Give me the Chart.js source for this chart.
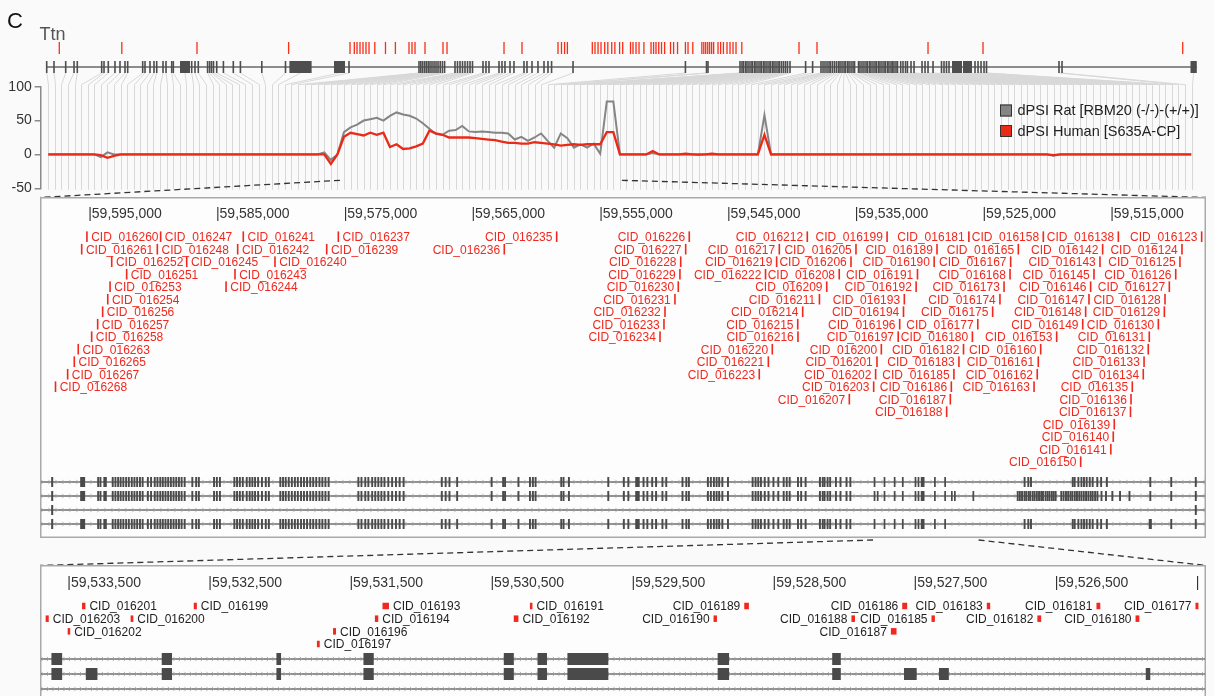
<!DOCTYPE html>
<html lang="en">
<head>
<meta charset="utf-8">
<title>Ttn exon usage</title>
<script src="https://cdn.jsdelivr.net/npm/chart.js@4.4.1/dist/chart.umd.min.js"></script>
<style>
  html, body { margin: 0; padding: 0; background: #fafafa; }
  #figure { position: relative; width: 1214px; height: 696px; overflow: hidden; }
  #figure canvas { position: absolute; left: 0; top: 0; }
</style>
</head>
<body>
<div id="figure">
  <canvas id="overview" width="1214" height="696"></canvas>
  <canvas id="region" width="1214" height="696"></canvas>
  <canvas id="detail" width="1214" height="696"></canvas>
</div>
<script>
const FONT = '"Liberation Sans", Arial, Helvetica, sans-serif';
const RED = '#f0281e';

// ---------- overview: Ttn gene model and dPSI per exon ----------
// exon positions along Ttn, kb from the 5' end (a pair is a long exon: [start, end])
const topExonsKb = [
  0.00, 1.88, 4.89, 7.03, 7.87,
  14.15, 14.75, 15.85, 17.57, 18.86, 20.15, 20.84,
  24.70, 25.30, 26.58, 27.61, 28.31, 29.93, 30.70, 32.17, 32.58,
  [34.30, 36.87],
  37.31, 38.16, 39.01,
  41.40, 41.92, 42.41, 42.92, 43.75, 45.47,
  48.02, 49.85, 55.35, 61.45,
  [62.45, 68.17], [73.93, 76.76], 77.79,
  95.80, 96.27, 96.73, 97.22, 97.68, 98.17, 98.64, 99.15, 99.67, 100.18, 100.70, 101.26, 101.83, 102.39,
  105.07, 105.71, 106.36, 107.00, 107.64, 108.29, 108.93, 109.57,
  112.27, 113.04, 113.81,
  116.39, 117.16, 117.93, 119.22, 120.24,
  122.82, 123.59, 124.88, 126.42, 127.97, 129.00, 129.92,
  135.44, 164.36, 169.79, 170.17,
  178.41, 178.92, 179.31, 179.82, 180.21, 180.72, 181.24, 181.62, 182.14, 182.52, 183.04, 183.55, 183.94, 184.45,
  184.84, 185.35, 185.87, 186.26, 186.77, 187.16, 187.67, 188.19, 188.57, 189.09, 189.60, 190.12, 190.63, 191.27,
  195.29, 197.09,
  199.25, 199.77, 200.28, 200.80, 201.31, 201.70, 202.21, 202.73, 203.24, 203.76, 204.15, 204.66, 205.18, 205.56,
  206.08, 206.46, 206.98, 207.49, 207.88,
  208.90, 209.28, 209.80, 210.31, 210.83, 211.21, 211.73, 212.11, 212.63, 213.14, 213.53, 214.04, 214.43, 214.94,
  215.46, 215.84, 216.36, 216.74, 217.26, 217.64, 218.03, 218.54, 218.93,
  219.76, 220.35, 221.00, 221.49,
  222.41, 223.19,
  225.25, 226.02, 226.79, 228.08,
  230.26, 230.90, 231.54, 232.19, [232.96, 235.53], [235.79, 238.11],
  238.88, 239.66, 240.43, 241.20, 241.84,
  260.49, 261.27,
  [294.33, 295.95]
];
const geneLengthKb = 296;

// exons with a splicing change, same coordinates
const dpsiExonsKb = [
  3.24, 19.33, 38.68, 62.25, 78.05, 79.16, 79.85, 80.62, 81.39, 82.16, 82.94, 84.43, 87.18, 89.73,
  93.23, 94.00, 94.78, 97.35, 101.98, 103.01, 117.68, 122.31, 131.57, 132.47, 133.27, 133.99,
  140.40, 141.09, 141.87, 142.64, 143.59, 144.39, 145.40, 146.21, 147.42, 148.22, 150.23, 150.87,
  151.65, 152.42, 153.68, 155.51, 156.17, 156.79, 157.49, 158.21, 159.01, 160.53, 161.32, 162.33,
  164.36, 165.03, 166.26, 168.58, 169.09, 169.58, 170.10, 170.59, 171.10, 171.62, 172.75, 173.42,
  174.14, 175.06, 175.84, 176.61, 177.38, 178.87, 193.59, 198.22, 226.79, 240.94, 292.33
];

// one column per exon
const exonColumns = topExonsKb.map((_, i) => i);

const dpsiRat = [
  0, 0, 0, 0, 0, 0, 0, 0, -4, 3, 0, 0, 0, 0, 0, 0, 0, 0, 0, 0, 0, 0, 0, 0, 0,
  0, 0, 0, 0, 0, 0, 0, 0, 0, 0, 0, 0, 0, 0, 0, 0, 0, 3, -8, 0, 33, 40, 44, 50, 52,
  54, 50, 57, 62, 59, 57, 53, 46, 38, 30, 29, 35, 36, 42, 34, 33, 34, 33, 32, 32, 31, 22, 26, 20, 25,
  31, 20, 10, 31, 24, 10, 15, 10, 16, 1, 78, 78, 0, 0, 0, 0, 0, 2, 0, 0, 0, 0, 0, 0, -1,
  0, 0, 0, 0, 0, 0, 0, 0, 0, 58, 0, 0, 0, 0, 0, 0, 0, 0, 0, 0, 0, 0, 0, 0, 0,
  0, 0, 0, 0, 0, 0, 0, 0, 0, 0, 0, 0, 0, 0, 0, 0, 0, 0, 0, 0, 0, 0, 0, 0, 0,
  0, 0, 0, -2, 0, 0, 0, 0, 0, 0, 0, 0, 0, 0, 0, 0, 0, 0, 0, 0, 0, 0, 0, 0, 0
];
const dpsiHuman = [
  0, 0, 0, 0, 0, 0, 0, 0, -1, -5, -2, 0, 0, 0, 0, 0, 0, 0, 0, 0, 0, 0, 0, 0, 0,
  0, 0, 0, 0, 0, 0, 0, 0, 0, 0, 0, 0, 0, 0, 0, 0, 0, 0, -14, 0, 26, 32, 30, 28, 32,
  29, 32, 11, 15, 8, 9, 12, 16, 35, 31, 29, 25, 25, 25, 25, 24, 23, 22, 21, 19, 17, 17, 16, 16, 18,
  17, 16, 15, 13, 14, 15, 14, 15, 15, 15, 33, 33, 0, 0, 0, 0, 0, 5, 0, 0, 0, 0, 1, 0, 0,
  0, 1, 0, 0, 0, 0, 0, 0, 0, 29, 0, 0, 0, 0, 0, 0, 0, 0, 0, 0, 0, 0, 0, 0, 0,
  0, 0, 0, 0, 0, 0, 0, 0, 0, 0, 0, 0, 0, 0, 0, 0, 0, 0, 0, 0, 0, 0, 0, 0, 0,
  0, 0, 0, -1, 0, 0, 0, 0, 0, 0, 0, 0, 0, 0, 0, 0, 0, 0, 0, 0, 0, 0, 0, 0, 0
];
const dpsiTicks = [-50, 0, 50, 100];
// exon columns covered by the region panel below
const regionColumns = [44.4, 87.3];

// ---------- region panel ----------
const regionRange = [59507640, 59598914];
const regionTicks = [59595000, 59585000, 59575000, 59565000, 59555000, 59545000, 59535000, 59525000, 59515000];

const cidNames = [
  'CID_016123', 'CID_016124', 'CID_016125', 'CID_016126', 'CID_016127', 'CID_016128', 'CID_016129', 'CID_016130',
  'CID_016131', 'CID_016132', 'CID_016133', 'CID_016134', 'CID_016135', 'CID_016136', 'CID_016137', 'CID_016138',
  'CID_016139', 'CID_016140', 'CID_016141', 'CID_016142', 'CID_016143', 'CID_016145', 'CID_016146', 'CID_016147',
  'CID_016148', 'CID_016149', 'CID_016150', 'CID_016153', 'CID_016158', 'CID_016160', 'CID_016161', 'CID_016162',
  'CID_016163', 'CID_016165', 'CID_016167', 'CID_016168', 'CID_016173', 'CID_016174', 'CID_016175', 'CID_016177',
  'CID_016180', 'CID_016181', 'CID_016182', 'CID_016183', 'CID_016185', 'CID_016186', 'CID_016187', 'CID_016188',
  'CID_016189', 'CID_016190', 'CID_016191', 'CID_016192', 'CID_016193', 'CID_016194', 'CID_016196', 'CID_016197',
  'CID_016199', 'CID_016200', 'CID_016201', 'CID_016202', 'CID_016203', 'CID_016205', 'CID_016206', 'CID_016207',
  'CID_016208', 'CID_016209', 'CID_016211', 'CID_016212', 'CID_016214', 'CID_016215', 'CID_016216', 'CID_016217',
  'CID_016219', 'CID_016220', 'CID_016221', 'CID_016222', 'CID_016223', 'CID_016226', 'CID_016227', 'CID_016228',
  'CID_016229', 'CID_016230', 'CID_016231', 'CID_016232', 'CID_016233', 'CID_016234', 'CID_016235', 'CID_016236',
  'CID_016237', 'CID_016239', 'CID_016240', 'CID_016241', 'CID_016242', 'CID_016243', 'CID_016244', 'CID_016245',
  'CID_016247', 'CID_016248', 'CID_016251', 'CID_016252', 'CID_016253', 'CID_016254', 'CID_016256', 'CID_016257',
  'CID_016258', 'CID_016260', 'CID_016261', 'CID_016263', 'CID_016265', 'CID_016267', 'CID_016268'
];
const cidPositions = [
  59507980, 59509520, 59509680, 59510010, 59510510, 59510850, 59510900, 59511370,
  59512080, 59512160, 59512490, 59512550, 59513410, 59513510, 59513550, 59514500,
  59514820, 59514900, 59515090, 59515730, 59515940, 59516410, 59516670, 59516800,
  59517060, 59517290, 59517450, 59519330, 59520375, 59520580, 59520770, 59520850,
  59521100, 59522330, 59522930, 59522980, 59523450, 59523770, 59524340, 59525504,
  59525926, 59526203, 59526622, 59526982, 59527374, 59527576, 59527654, 59527941,
  59528697, 59528919, 59530224, 59530331, 59531255, 59531320, 59531618, 59531733,
  59532605, 59533054, 59533396, 59533501, 59533655, 59535040, 59535430, 59535560,
  59536350, 59537330, 59537900, 59538850, 59539210, 59539600, 59539580, 59541040,
  59541250, 59541590, 59541900, 59542120, 59542610, 59548090, 59548370, 59548760,
  59548820, 59548950, 59549210, 59549990, 59550070, 59550380, 59558470, 59562570,
  59575560, 59576470, 59580520, 59583000, 59583440, 59583650, 59584350, 59587430,
  59589470, 59589730, 59592130, 59593300, 59593430, 59593610, 59594010, 59594400,
  59594870, 59595240, 59595650, 59595920, 59596230, 59596750, 59597700
];

// transcript models, kb (a single value is a short exon centre, a pair is [start, end])
const txShared = [
  [59598.04, 59597.88], [59595.77, 59595.38],
  59594.36, 59594.18, 59593.88, 59593.76, 59593.22, 59593.01, 59592.80, 59592.60, 59592.39, 59592.17,
  59591.96, 59591.73, 59591.52, 59591.31, 59591.09, 59590.88, 59590.47, 59590.22, 59589.93, 59589.72,
  59589.50, 59589.30, 59589.09, 59588.88, 59588.67, 59588.46, 59588.25, 59588.04, 59587.83, 59587.59,
  59586.99, 59586.69, 59586.48, 59585.29, 59585.07, 59584.83, 59583.70, 59583.49, 59583.27, 59583.04,
  59582.73, 59582.50, 59582.29, 59582.08, 59581.84, 59581.54, 59581.24, 59581.00, 59580.10, 59579.89,
  59579.68, 59579.44, 59579.20, 59578.96, 59578.73, 59578.48, 59578.25, 59578.01, 59577.76, 59577.53,
  59577.29, 59577.04, 59576.81, 59576.57, 59576.32, 59573.99, 59573.75, 59573.45, 59573.21, 59572.91,
  59572.67, 59572.43, 59572.19, 59571.95, 59571.65, 59571.35, 59571.05, 59570.76, 59570.45, 59567.46,
  59567.16, 59566.86, 59566.26, 59563.56, 59562.66, 59562.51, 59561.46, 59560.56, 59560.33, 59560.12,
  59558.11, 59557.93, 59557.51, 59554.43, 59553.21, 59552.86, [59552.32, 59551.97], 59551.67, 59551.37,
  59550.99, 59550.69, 59550.19, 59549.89, 59548.62, 59548.32, 59548.12, 59546.63, 59546.40, 59546.16,
  59545.95, 59545.75, 59545.50, 59545.06, 59543.13, 59542.90, 59542.69, 59542.48, 59542.18, 59541.89,
  59541.50, 59541.12, 59540.70, 59540.46, 59540.23, 59539.58, 59539.33, 59538.98, 59537.86, 59537.64,
  59537.50, 59537.26, 59537.06, 59536.61, 59536.25, 59535.78, 59535.48
];
const txDetailCore = [
  [59533.625, 59533.549], [59532.843, 59532.770], [59532.030, 59531.997], [59531.413, 59531.340],
  [59530.418, 59530.347], [59530.179, 59530.112], [59529.967, 59529.677], [59528.902, 59528.821],
  [59528.090, 59528.029]
];
const txTailA = [
  59521.84, 59521.55, 59521.34, 59518.07, 59517.92, 59517.63, 59517.39, 59517.19, 59516.98, 59516.74,
  59516.51, 59516.15, 59515.85, 59515.40, 59512.00, 59510.36, 59508.44
];
const txExtraB = [
  [59533.381, 59533.299], [59527.581, 59527.491], [59527.333, 59527.263], [59525.867, 59525.835]
];
const txTailB = [
  59522.38, 59522.21, 59522.04, 59521.85, 59521.71, 59521.53, 59521.40, 59521.21, 59521.06, 59520.88,
  59520.71, 59520.54, 59520.40, 59520.20, 59520.04, 59519.89, 59519.71, 59519.56, 59519.41, 59518.97,
  59518.79, 59518.60, 59518.43, 59518.25, 59518.10, 59517.91, 59517.74, 59517.56, 59517.39, 59517.21,
  59517.03, 59516.85, 59516.67, 59516.51, 59516.32, 59516.14, 59515.82, 59515.47, 59514.97, 59514.37,
  59513.63, 59512.00, 59510.36, 59508.44
];
const txTailD = [
  59521.84, 59521.55, 59521.34, 59518.07, 59517.92, 59517.63, 59517.39, 59517.19, 59516.98, 59516.74,
  59516.51, 59516.15, 59515.85, 59515.40, [59512.12, 59511.88], 59510.36, 59508.44
];
const transcripts = [
  [...txShared, ...txDetailCore, ...txTailA],
  [...txShared, ...txDetailCore, ...txExtraB, ...txTailB],
  [[59598.04, 59597.88], 59508.44],
  [...txShared, ...txDetailCore, ...txTailD]
];

// ---------- detail panel ----------
const detailRange = [59525440, 59533706];
const detailTicks = [59533500, 59532500, 59531500, 59530500, 59529500, 59528500, 59527500, 59526500, 59525500];
const detailCids = [
  'CID_016177', 'CID_016180', 'CID_016181', 'CID_016182', 'CID_016183', 'CID_016185', 'CID_016186', 'CID_016187',
  'CID_016188', 'CID_016189', 'CID_016190', 'CID_016191', 'CID_016192', 'CID_016193', 'CID_016194', 'CID_016196',
  'CID_016197', 'CID_016199', 'CID_016200', 'CID_016201', 'CID_016202', 'CID_016203'
];
const detailCidLengths = [21, 27, 27, 27, 24, 24, 35, 40, 25, 33, 24, 18, 33, 46, 24, 21, 20, 22, 19, 24, 18, 22];

// ---------- layout ----------
const W = 1214, H = 696;
const PLOT = { left: 40.7, top: 86.7, right: 1191.5, bottom: 188.3 };
const REGION_BOX = { left: 40, top: 197, right: 1206, bottom: 538 };
const DETAIL_BOX = { left: 40, top: 565, right: 1206, bottom: 696 };
const DEFAULT_EXON_KB = 0.15;

function centreOf(e) { return Array.isArray(e) ? (e[0] + e[1]) / 2 : e; }

// ---------- overview decorations ----------
const overviewDecor = {
  id: 'overviewDecor',
  beforeDatasetsDraw(chart) {
    const { ctx, chartArea: a, scales } = chart;
    const xs = scales.x, gs = scales.gene;
    const colTop = a.top - 2, exonTop = 61, exonH = 12, lineY = 67;
    ctx.save();
    // fan from each exon to its column, then the column itself
    ctx.strokeStyle = '#d8d8d8';
    ctx.lineWidth = 1;
    ctx.beginPath();
    topExonsKb.forEach((e, i) => {
      const gx = gs.getPixelForValue(centreOf(e));
      const cx = Math.round(xs.getPixelForValue(exonColumns[i])) + 0.5;
      ctx.moveTo(gx, exonTop + exonH);
      ctx.lineTo(cx, colTop);
      ctx.lineTo(cx, a.bottom + 1.5);
    });
    ctx.stroke();

    // gene backbone
    ctx.strokeStyle = '#8c8c8c';
    ctx.lineWidth = 2;
    ctx.beginPath();
    ctx.moveTo(gs.getPixelForValue(0), lineY);
    ctx.lineTo(gs.getPixelForValue(geneLengthKb), lineY);
    ctx.stroke();

    // exons
    ctx.fillStyle = '#4e4e4e';
    topExonsKb.forEach(e => {
      if (Array.isArray(e)) {
        const x1 = gs.getPixelForValue(e[0]), x2 = gs.getPixelForValue(e[1]);
        ctx.fillRect(x1, exonTop, Math.max(1.6, x2 - x1), exonH);
      } else {
        ctx.fillRect(gs.getPixelForValue(e) - 0.8, exonTop, 1.6, exonH);
      }
    });

    // exons with a splicing change
    ctx.fillStyle = '#fa2d17';
    dpsiExonsKb.forEach(v => ctx.fillRect(gs.getPixelForValue(v) - 0.65, 42, 1.3, 12));

    // panel letter and gene name
    ctx.textBaseline = 'alphabetic';
    ctx.textAlign = 'left';
    ctx.fillStyle = '#111';
    ctx.font = `22px ${FONT}`;
    ctx.fillText('C', 7, 27.5);
    ctx.fillStyle = '#555';
    ctx.font = `18px ${FONT}`;
    ctx.fillText('Ttn', 39.5, 39.5);

    // dashed guides down to the region panel
    ctx.strokeStyle = '#333';
    ctx.lineWidth = 1.3;
    ctx.setLineDash([6, 4]);
    ctx.beginPath();
    ctx.moveTo(xs.getPixelForValue(regionColumns[0]), a.bottom - 8);
    ctx.lineTo(REGION_BOX.left, REGION_BOX.top + 0.5);
    ctx.moveTo(xs.getPixelForValue(regionColumns[1]), a.bottom - 8);
    ctx.lineTo(REGION_BOX.right, REGION_BOX.top + 0.5);
    ctx.stroke();
    ctx.restore();
  },
  afterDatasetsDraw(chart) {
    const { ctx } = chart;
    ctx.save();
    ctx.font = `14.5px ${FONT}`;
    ctx.textAlign = 'left';
    ctx.textBaseline = 'middle';
    chart.data.datasets.forEach((ds, i) => {
      const cy = 110.5 + i * 20.5;
      ctx.fillStyle = ds.borderColor;
      ctx.fillRect(1000, cy - 6, 12, 12);
      ctx.strokeStyle = '#333';
      ctx.lineWidth = 1;
      ctx.strokeRect(1000.5, cy - 5.5, 11, 11);
      ctx.fillStyle = '#222';
      ctx.fillText(ds.label, 1017.5, cy + 0.5);
    });
    ctx.restore();
  }
};

// ---------- shared drawing for the genome panels ----------
function drawPanelBox(ctx, a, openBottom) {
  ctx.fillStyle = '#fdfdfd';
  ctx.fillRect(a.left, a.top, a.width, a.height);
  ctx.strokeStyle = '#a9a9a9';
  ctx.lineWidth = 1.5;
  ctx.beginPath();
  if (openBottom) {
    ctx.moveTo(a.left + 0.75, a.bottom + 2);
    ctx.lineTo(a.left + 0.75, a.top + 0.75);
    ctx.lineTo(a.right - 0.75, a.top + 0.75);
    ctx.lineTo(a.right - 0.75, a.bottom + 2);
  } else {
    ctx.rect(a.left + 0.75, a.top + 0.75, a.width - 1.5, a.height - 1.5);
  }
  ctx.stroke();
}

function drawCoordLabels(ctx, xs, ticks, baseline, rightLimit) {
  ctx.font = `14px ${FONT}`;
  ctx.fillStyle = '#333';
  ctx.textAlign = 'left';
  ctx.textBaseline = 'alphabetic';
  ticks.forEach(v => {
    const x = xs.getPixelForValue(v) - 1.8;
    let t = '|' + v.toLocaleString('en-US');
    if (x + ctx.measureText(t).width > rightLimit) t = '|';
    ctx.fillText(t, x, baseline);
  });
}

function drawTranscripts(ctx, xs, ts, a, opt) {
  ctx.save();
  ctx.beginPath();
  ctx.rect(a.left + 1, a.top, a.width - 2, a.height);
  ctx.clip();
  transcripts.forEach((exons, t) => {
    const y = ts.getPixelForValue(t);
    ctx.strokeStyle = '#6c6c6c';
    ctx.lineWidth = opt.lineW;
    ctx.beginPath();
    ctx.moveTo(a.left, y);
    ctx.lineTo(a.right, y);
    ctx.stroke();
    ctx.strokeStyle = '#a6a6a6';
    ctx.lineWidth = 0.8;
    ctx.beginPath();
    for (let cx = a.left + 3; cx < a.right; cx += opt.chevron) {
      ctx.moveTo(cx - 1.6, y - 2.2);
      ctx.lineTo(cx + 0.4, y);
      ctx.lineTo(cx - 1.6, y + 2.2);
    }
    ctx.stroke();
    ctx.fillStyle = '#4a4a4a';
    exons.forEach(e => {
      const hi = Array.isArray(e) ? e[0] : e + DEFAULT_EXON_KB / 2;
      const lo = Array.isArray(e) ? e[1] : e - DEFAULT_EXON_KB / 2;
      const x1 = xs.getPixelForValue(hi * 1000), x2 = xs.getPixelForValue(lo * 1000);
      let l = Math.min(x1, x2), w = Math.abs(x2 - x1);
      if (w < opt.minW) { l -= (opt.minW - w) / 2; w = opt.minW; }
      if (l > a.right || l + w < a.left) return;
      ctx.fillRect(l, y - opt.exonH / 2, w, opt.exonH);
    });
  });
  ctx.restore();
}

// labels go to the first lane where they do not collide, in CID order
function drawCidLabels(ctx, xs, lanes, opt) {
  ctx.font = `12px ${FONT}`;
  ctx.textBaseline = 'alphabetic';
  const items = [];
  cidNames.forEach((name, i) => {
    const pos = cidPositions[i];
    if (pos < xs.min || pos > xs.max) return;
    let m0, m1;
    if (opt.sized) {
      const len = detailCidLengths[detailCids.indexOf(name)];
      const a = xs.getPixelForValue(pos + len / 2), b = xs.getPixelForValue(pos - len / 2);
      m0 = Math.min(a, b); m1 = Math.max(a, b);
      if (m1 - m0 < opt.markW) { const c = (m0 + m1) / 2; m0 = c - opt.markW / 2; m1 = c + opt.markW / 2; }
    } else {
      const c = xs.getPixelForValue(pos);
      m0 = c - opt.markW / 2; m1 = c + opt.markW / 2;
    }
    const w = ctx.measureText(name).width;
    const right = pos > opt.flipAt;
    items.push({ name, m0, m1, right,
      e0: right ? m0 : m0 - opt.gap - w,
      e1: right ? m1 + opt.gap + w : m1 });
  });
  const rows = [];
  items.forEach(it => {
    let r = 0;
    while (rows[r] && rows[r].some(o => it.e0 < o.e1 && o.e0 < it.e1)) r++;
    (rows[r] || (rows[r] = [])).push(it);
    it.row = r;
  });
  items.forEach(it => {
    const cy = lanes.getPixelForValue(it.row);
    ctx.fillStyle = RED;
    ctx.fillRect(it.m0, cy - opt.markH / 2, it.m1 - it.m0, opt.markH);
    ctx.fillStyle = opt.textColor;
    ctx.textAlign = it.right ? 'left' : 'right';
    ctx.fillText(it.name, it.right ? it.m1 + opt.gap : it.m0 - opt.gap, cy + opt.baseline);
  });
}

const regionDecor = {
  id: 'regionDecor',
  afterDraw(chart) {
    const { ctx, chartArea: a, scales } = chart;
    ctx.save();
    drawPanelBox(ctx, a, false);
    drawCoordLabels(ctx, scales.x, regionTicks, a.top + 20.5, a.right - 2);
    drawTranscripts(ctx, scales.x, scales.track, a, { lineW: 1.3, chevron: 7, exonH: 10, minW: 1.7 });
    drawCidLabels(ctx, scales.x, scales.y, {
      markW: 1.6, markH: 10.6, gap: 3.4, baseline: 4.4, textColor: RED, flipAt: 59570000, sized: false
    });
    // dashed guides down to the detail panel
    ctx.strokeStyle = '#333';
    ctx.lineWidth = 1.3;
    ctx.setLineDash([6, 4]);
    ctx.beginPath();
    ctx.moveTo(scales.x.getPixelForValue(detailRange[1]), a.bottom + 2);
    ctx.lineTo(DETAIL_BOX.left, DETAIL_BOX.top + 0.5);
    ctx.moveTo(scales.x.getPixelForValue(detailRange[0]), a.bottom + 2);
    ctx.lineTo(DETAIL_BOX.right, DETAIL_BOX.top + 0.5);
    ctx.stroke();
    ctx.restore();
  }
};

const detailDecor = {
  id: 'detailDecor',
  afterDraw(chart) {
    const { ctx, chartArea: a, scales } = chart;
    ctx.save();
    drawPanelBox(ctx, a, true);
    drawCoordLabels(ctx, scales.x, detailTicks, a.top + 21.5, a.right - 2);
    drawTranscripts(ctx, scales.x, scales.track, a, { lineW: 1.5, chevron: 5.5, exonH: 12, minW: 2 });
    drawCidLabels(ctx, scales.x, scales.y, {
      markW: 2.5, markH: 6.5, gap: 4, baseline: 4.2, textColor: '#1e1e1e', flipAt: 59529500, sized: true
    });
    ctx.restore();
  }
};

const baseOptions = {
  responsive: false,
  animation: false,
  devicePixelRatio: 1,
  events: [],
  plugins: { legend: { display: false }, tooltip: { enabled: false } }
};

// ---------- overview chart ----------
new Chart(document.getElementById('overview'), {
  type: 'line',
  data: {
    labels: exonColumns,
    datasets: [
      { label: 'dPSI Rat [RBM20 (-/-)-(+/+)]', data: dpsiRat, borderColor: '#858585', backgroundColor: '#858585',
        borderWidth: 2, pointRadius: 0, tension: 0, order: 2, xAxisID: 'x', yAxisID: 'y' },
      { label: 'dPSI Human [S635A-CP]', data: dpsiHuman, borderColor: '#ea2a17', backgroundColor: '#ea2a17',
        borderWidth: 2.3, pointRadius: 0, tension: 0, order: 1, xAxisID: 'x', yAxisID: 'y' }
    ]
  },
  options: {
    ...baseOptions,
    layout: { padding: { left: 0, top: PLOT.top, right: W - PLOT.right, bottom: H - PLOT.bottom } },
    scales: {
      x: { type: 'linear', min: -1.16, max: exonColumns.length - 1, display: false },
      gene: { type: 'linear', axis: 'x', min: -1.544, max: 294.59, display: false },
      y: {
        type: 'linear', position: 'left', min: -50, max: 100,
        afterBuildTicks: s => { s.ticks = dpsiTicks.map(v => ({ value: v })); },
        afterFit: s => { s.width = PLOT.left; },
        grid: { drawOnChartArea: false, drawTicks: true, tickLength: 6, color: '#8a8a8a', lineWidth: 1.5 },
        border: { display: true, color: '#8a8a8a', width: 1.5 },
        ticks: { color: '#333', padding: 3, font: { family: FONT, size: 14 } }
      }
    }
  },
  plugins: [overviewDecor]
});

// ---------- region chart ----------
(function () {
  const h = REGION_BOX.bottom - REGION_BOX.top;
  const lane0 = 39.7, lanePitch = 12.5, track0 = 285, trackPitch = 14;
  new Chart(document.getElementById('region'), {
    type: 'scatter',
    data: { datasets: [] },
    options: {
      ...baseOptions,
      layout: { padding: { left: REGION_BOX.left, top: REGION_BOX.top, right: W - REGION_BOX.right, bottom: H - REGION_BOX.bottom } },
      scales: {
        x: { type: 'linear', reverse: true, min: regionRange[0], max: regionRange[1], display: false },
        y: { type: 'linear', reverse: true, min: -lane0 / lanePitch, max: (h - lane0) / lanePitch, display: false },
        track: { type: 'linear', axis: 'y', reverse: true, min: -track0 / trackPitch, max: (h - track0) / trackPitch, display: false }
      }
    },
    plugins: [regionDecor]
  });
})();

// ---------- detail chart ----------
(function () {
  const h = DETAIL_BOX.bottom - DETAIL_BOX.top;
  const lane0 = 41, lanePitch = 12.67, track0 = 94, trackPitch = 15;
  new Chart(document.getElementById('detail'), {
    type: 'scatter',
    data: { datasets: [] },
    options: {
      ...baseOptions,
      layout: { padding: { left: DETAIL_BOX.left, top: DETAIL_BOX.top, right: W - DETAIL_BOX.right, bottom: H - DETAIL_BOX.bottom } },
      scales: {
        x: { type: 'linear', reverse: true, min: detailRange[0], max: detailRange[1], display: false },
        y: { type: 'linear', reverse: true, min: -lane0 / lanePitch, max: (h - lane0) / lanePitch, display: false },
        track: { type: 'linear', axis: 'y', reverse: true, min: -track0 / trackPitch, max: (h - track0) / trackPitch, display: false }
      }
    },
    plugins: [detailDecor]
  });
})();
</script>
</body>
</html>
